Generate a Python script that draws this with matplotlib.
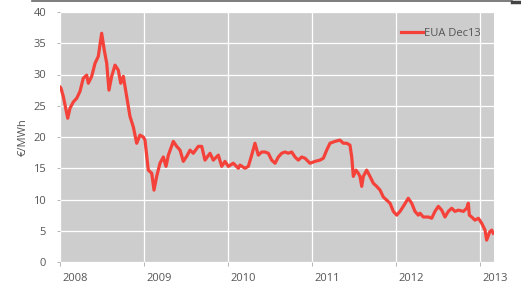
import matplotlib
matplotlib.use("Agg")
import matplotlib.pyplot as plt
from matplotlib.lines import Line2D
import matplotlib.transforms as mtrans

plt.rcParams['font.family'] = ['Open Sans', 'DejaVu Sans']

# decimal years and EUA Dec13 price (EUR/MWh)
years = [2008.000, 2008.012, 2008.039, 2008.092, 2008.119, 2008.158, 2008.199, 2008.238,
         2008.277, 2008.318, 2008.337, 2008.377, 2008.417, 2008.456, 2008.496, 2008.527,
         2008.556, 2008.583, 2008.615, 2008.655, 2008.694, 2008.723, 2008.754, 2008.794,
         2008.833, 2008.873, 2008.913, 2008.952, 2008.992, 2009.012, 2009.051, 2009.092,
         2009.119, 2009.151, 2009.190, 2009.230, 2009.262, 2009.290, 2009.349, 2009.389,
         2009.429, 2009.468, 2009.508, 2009.548, 2009.587, 2009.646, 2009.687, 2009.726,
         2009.786, 2009.825, 2009.885, 2009.925, 2009.964, 2010.004, 2010.063, 2010.123,
         2010.143, 2010.202, 2010.242, 2010.282, 2010.321, 2010.361, 2010.401, 2010.440,
         2010.480, 2010.520, 2010.560, 2010.599, 2010.639, 2010.679, 2010.718, 2010.758,
         2010.798, 2010.837, 2010.877, 2010.917, 2010.976, 2011.036, 2011.095, 2011.135,
         2011.175, 2011.214, 2011.274, 2011.333, 2011.373, 2011.413, 2011.452, 2011.473,
         2011.492, 2011.524, 2011.551, 2011.571, 2011.592, 2011.611, 2011.651, 2011.690,
         2011.730, 2011.770, 2011.810, 2011.849, 2011.889, 2011.929, 2011.968, 2012.008,
         2012.048, 2012.087, 2012.146, 2012.187, 2012.226, 2012.265, 2012.286, 2012.325,
         2012.385, 2012.425, 2012.464, 2012.504, 2012.544, 2012.583, 2012.623, 2012.663,
         2012.702, 2012.742, 2012.802, 2012.842, 2012.861, 2012.873, 2012.901, 2012.940,
         2012.980, 2013.020, 2013.060, 2013.079, 2013.115, 2013.139, 2013.158]
prices = [28.0, 27.8, 26.5, 23.0, 24.6, 25.6, 26.2, 27.3,
          29.4, 29.9, 28.6, 29.7, 31.8, 32.9, 36.6, 33.9,
          31.8, 27.5, 29.7, 31.5, 30.7, 28.6, 29.7, 26.5,
          23.3, 21.6, 19.0, 20.3, 20.0, 19.5, 14.7, 14.2,
          11.5, 13.7, 15.8, 16.8, 15.3, 17.1, 19.3, 18.5,
          17.9, 16.1, 16.9, 17.9, 17.4, 18.5, 18.5, 16.3,
          17.4, 16.3, 17.1, 15.3, 16.1, 15.3, 15.8, 15.0,
          15.5, 15.0, 15.3, 17.1, 19.0, 17.1, 17.6, 17.6,
          17.4, 16.3, 15.8, 16.8, 17.4, 17.6, 17.4, 17.6,
          16.8, 16.3, 16.8, 16.6, 15.8, 16.1, 16.3, 16.6,
          17.9, 19.0, 19.3, 19.5, 19.0, 19.0, 18.7, 16.8,
          13.7, 14.7, 14.2, 13.7, 12.1, 13.7, 14.7, 13.7,
          12.6, 12.1, 11.5, 10.4, 9.9, 9.4, 8.1, 7.5,
          8.1, 8.9, 10.2, 9.4, 8.1, 7.5, 7.8, 7.2,
          7.2, 7.0, 8.1, 8.9, 8.3, 7.2, 8.1, 8.6,
          8.1, 8.3, 8.1, 8.6, 9.4, 7.5, 7.2, 6.7,
          7.0, 6.2, 5.1, 3.5, 4.8, 5.1, 4.6]

series_label = "EUA Dec13"
y_label = "€/MWh"
x_ticks = [2008, 2009, 2010, 2011, 2012, 2013]
x_tick_labels = ["2008", "2009", "2010", "2011", "2012", "2013"]
y_ticks = [0, 5, 10, 15, 20, 25, 30, 35, 40]

W, H = 521, 283
fig = plt.figure(figsize=(W / 100, H / 100), dpi=100)
ax = fig.add_axes([60 / W, 1 - 262 / H, 434 / W, 250 / H])
ax.set_facecolor('#cdcdcd')

line_color = '#f4423a'
ax.plot(years, prices, color=line_color, lw=2.3, solid_joinstyle='round')

ax.set_xlim(2008, 2008 + 434 / 84)
ax.set_ylim(0, 40)
ax.set_yticks(y_ticks)
ax.set_xticks(x_ticks)
ax.set_xticklabels(x_tick_labels, ha='left')
ax.grid(True, color='white', lw=0.9)
ax.set_axisbelow(True)
for s in ax.spines.values():
    s.set_visible(False)
ax.tick_params(axis='both', colors='#aaaaaa', labelcolor='#555555', labelsize=8,
               length=3, width=0.6)
ax.tick_params(axis='x', pad=5)
ax.tick_params(axis='y', length=2, pad=8)
offset = mtrans.ScaledTranslation(2.5 / 100, 0, fig.dpi_scale_trans)
for t in ax.get_xticklabels():
    t.set_transform(t.get_transform() + offset)

ax.set_ylabel(y_label, color='#555555', fontsize=8, labelpad=3)

leg = ax.legend([Line2D([0], [0], color=line_color, lw=2.3)], [series_label],
                loc='upper right', frameon=False, fontsize=8, handlelength=2.0,
                handletextpad=0.1, borderaxespad=0.6, bbox_to_anchor=(0.995, 0.98))
for t in leg.get_texts():
    t.set_color('#555555')

# top border decoration
fig.add_artist(Line2D([32 / W, 512 / W], [1 - 0.8 / H, 1 - 0.8 / H], color='#666666', lw=1.2))
fig.add_artist(Line2D([512 / W, 1], [1 - 1.5 / H, 1 - 1.5 / H], color='#444444', lw=2.5))

fig.savefig('out.png', dpi=100, facecolor='white')
